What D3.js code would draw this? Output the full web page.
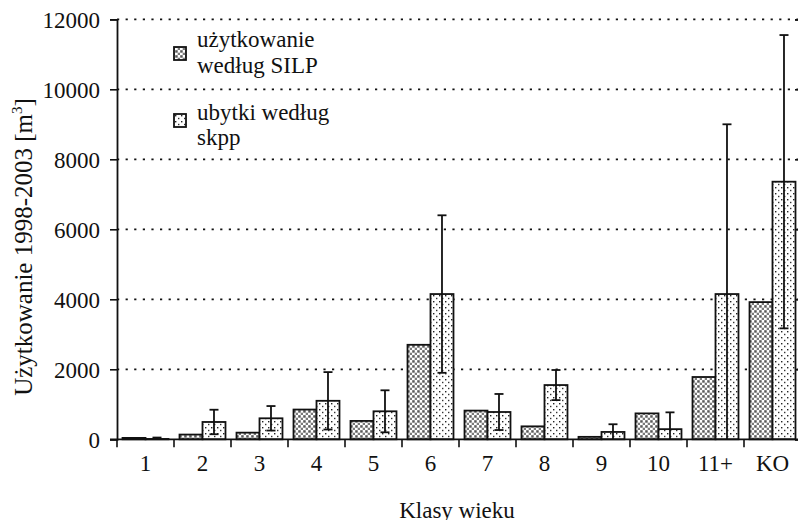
<!DOCTYPE html>
<html>
<head>
<meta charset="utf-8">
<script src="https://cdn.jsdelivr.net/npm/d3@7"></script>
<style>
  body { margin: 0; background: #fff; }
  svg { display: block; }
</style>
</head>
<body>
<svg id="chart" width="798" height="520"></svg>
<script>
// age classes
var classes = ['1', '2', '3', '4', '5', '6', '7', '8', '9', '10', '11+', 'KO'];
// uzytkowanie wedlug SILP
var silp = [40, 135, 190, 850, 525, 2700, 820, 370, 70, 740, 1780, 3920];
// ubytki wedlug skpp
var skpp = [10, 495, 600, 1100, 800, 4150, 780, 1550, 210, 290, 4150, 7360];
// +/- range of skpp
var skppErr = [40, 350, 350, 820, 600, 2250, 515, 430, 220, 480, 4850, 4190];
var yTicks = [0, 2000, 4000, 6000, 8000, 10000, 12000];
var seriesNames = ['silp', 'skpp'];
var legendLines = [['użytkowanie', 'według SILP'], ['ubytki według', 'skpp']];

var SERIF = '"Liberation Serif", "Times New Roman", "DejaVu Serif", serif';
var svg = d3.select('#chart');
var plotLeft = 117, plotRight = 801, plotTop = 19.3, plotBottom = 439.3;

var x0 = d3.scaleBand().domain(classes).range([plotLeft, plotRight]);
var x1 = d3.scaleBand().domain(seriesNames).range([0, x0.bandwidth()]).paddingOuter(0.24);
var y = d3.scaleLinear().domain([0, 12000]).range([plotBottom, plotTop]);

// patterns
var defs = svg.append('defs');
var p1 = defs.append('pattern').attr('id', 'pat-silp').
    attr('patternUnits', 'userSpaceOnUse').attr('width', 5).attr('height', 5);
p1.append('rect').attr('width', 5).attr('height', 5).attr('fill', '#fff');
p1.append('rect').attr('x', 0.2).attr('y', 0.2).attr('width', 2.5).attr('height', 2.5).attr('fill', '#5a5a5a');
p1.append('rect').attr('x', 2.7).attr('y', 2.7).attr('width', 2.3).attr('height', 2.3).attr('fill', '#7a7a7a');

var p2 = defs.append('pattern').attr('id', 'pat-skpp').
    attr('patternUnits', 'userSpaceOnUse').attr('width', 6).attr('height', 6);
p2.append('rect').attr('width', 6).attr('height', 6).attr('fill', '#fff');
p2.append('rect').attr('x', 1).attr('y', 1).attr('width', 1.4).attr('height', 1.4).attr('fill', '#222');
p2.append('rect').attr('x', 4).attr('y', 3.8).attr('width', 1.4).attr('height', 1.4).attr('fill', '#333');

var fills = {silp: 'url(#pat-silp)', skpp: 'url(#pat-skpp)'};

// dotted grid
svg.append('g').selectAll('line').data(yTicks.slice(1)).join('line').
    attr('x1', plotLeft).attr('x2', plotRight).
    attr('y1', function(d) { return y(d); }).attr('y2', function(d) { return y(d); }).
    attr('stroke', '#111').attr('stroke-width', 1.8).attr('stroke-dasharray', '2.2,6.4');

// bars
var rows = classes.map(function(c, i) {
  return {cls: c, silp: silp[i], skpp: skpp[i], err: skppErr[i]};
});
var groups = svg.append('g').selectAll('g').data(rows).join('g').
    attr('transform', function(d) { return 'translate(' + x0(d.cls) + ',0)'; });
groups.selectAll('rect').data(function(d) {
  return seriesNames.map(function(k) { return {key: k, value: d[k]}; });
}).join('rect').
    attr('x', function(d) { return x1(d.key); }).
    attr('width', x1.bandwidth()).
    attr('y', function(d) { return y(d.value); }).
    attr('height', function(d) { return y(0) - y(d.value); }).
    attr('fill', function(d) { return fills[d.key]; }).
    attr('stroke', '#111').attr('stroke-width', 1.8);

// error bars on skpp
var cx = x1('skpp') + x1.bandwidth() / 2;
var err = groups.append('g').attr('stroke', '#111').attr('stroke-width', 1.8);
err.append('line').
    attr('x1', cx).attr('x2', cx).
    attr('y1', function(d) { return y(Math.max(0, d.skpp - d.err)); }).
    attr('y2', function(d) { return y(d.skpp + d.err); });
err.append('line').
    attr('x1', cx - 4.5).attr('x2', cx + 4.5).
    attr('y1', function(d) { return y(d.skpp + d.err); }).
    attr('y2', function(d) { return y(d.skpp + d.err); });
err.filter(function(d) { return d.skpp - d.err > 0; }).append('line').
    attr('x1', cx - 4.5).attr('x2', cx + 4.5).
    attr('y1', function(d) { return y(d.skpp - d.err); }).
    attr('y2', function(d) { return y(d.skpp - d.err); });

// y axis
var yAxis = svg.append('g').attr('transform', 'translate(' + plotLeft + ',0)').
    call(d3.axisLeft(y).tickValues(yTicks).tickSize(7).tickPadding(10).tickFormat(d3.format('d')));
yAxis.attr('font-family', null);
yAxis.select('.domain').attr('stroke', '#111').attr('stroke-width', 1.8);
yAxis.selectAll('.tick line').attr('stroke', '#111').attr('stroke-width', 1.6);
yAxis.selectAll('.tick text').attr('font-size', 23).attr('dy', '0.35em');

// right ticks pointing inward
var rAxis = svg.append('g').attr('transform', 'translate(' + plotRight + ',0)').
    call(d3.axisRight(y).tickValues(yTicks).tickSize(-6).tickFormat(''));
rAxis.select('.domain').attr('stroke', '#111').attr('stroke-width', 1.8);
rAxis.selectAll('.tick line').attr('stroke', '#111').attr('stroke-width', 1.6);

// x axis, ticks at class boundaries
var xAxis = svg.append('g').attr('transform', 'translate(0,' + plotBottom + ')');
xAxis.append('line').attr('x1', plotLeft - 7).attr('x2', plotRight).attr('stroke', '#111').attr('stroke-width', 1.8);
xAxis.selectAll('.bound').data(classes).join('line').attr('class', 'bound').
    attr('x1', function(d) { return x0(d); }).attr('x2', function(d) { return x0(d); }).
    attr('y1', 0).attr('y2', 8).attr('stroke', '#111').attr('stroke-width', 1.6);
xAxis.selectAll('text').data(classes).join('text').
    attr('x', function(d) { return x0(d) + x0.bandwidth() / 2; }).
    attr('y', 32).attr('text-anchor', 'middle').attr('font-size', 23).
    text(function(d) { return d; });

// axis titles
svg.append('text').attr('x', (plotLeft + plotRight) / 2 - 2).attr('y', 518).
    attr('text-anchor', 'middle').attr('font-size', 23).text('Klasy wieku');
var yt = svg.append('text').attr('transform', 'translate(32,247) rotate(-90)').
    attr('text-anchor', 'middle').attr('font-size', 25);
yt.append('tspan').text('Użytkowanie 1998-2003 [m');
yt.append('tspan').attr('font-size', 15).attr('dy', -10).text('3');
yt.append('tspan').attr('dy', 10).text(']');

// legend
var legend = svg.append('g');
var legendY = [47, 114];
legend.selectAll('rect').data(seriesNames).join('rect').
    attr('x', 174).attr('y', function(d, i) { return legendY[i]; }).
    attr('width', 12).attr('height', 13).
    attr('fill', function(d) { return fills[d]; }).attr('stroke', '#111').attr('stroke-width', 1.8);
var baselines = [[47, 73], [120, 145]];
legendLines.forEach(function(lines, i) {
  lines.forEach(function(t, j) {
    legend.append('text').attr('x', 197).attr('y', baselines[i][j]).
        attr('font-size', 23).text(t);
  });
});

// serif everywhere, set inline so axis defaults don't win
svg.selectAll('text').style('font-family', SERIF).style('fill', '#111');
</script>
</body>
</html>
